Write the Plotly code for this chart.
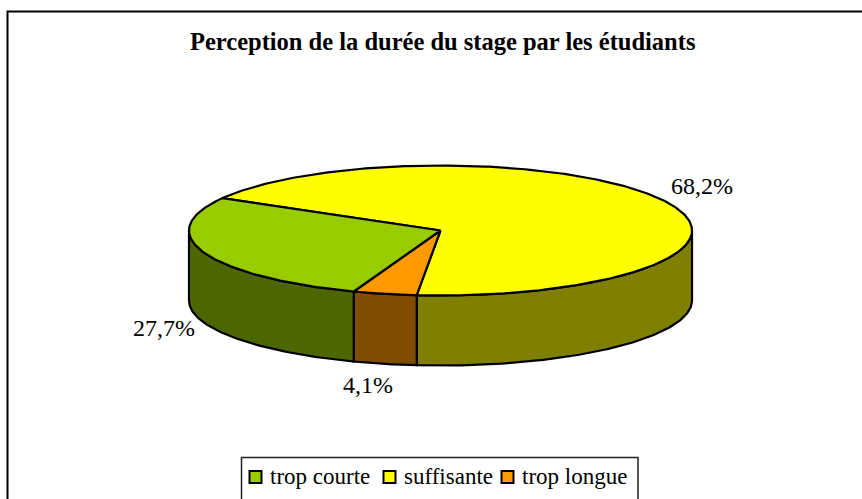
import numpy as np
import plotly.graph_objects as go

# Data
categories = ["trop courte", "suffisante", "trop longue"]
values = [27.7, 68.2, 4.1]
top_colors = ["#99CC00", "#FFFF00", "#FF9900"]
side_colors = ["#4D6600", "#808000", "#804D00"]
title_text = "Perception de la durée du stage par les étudiants"
FONT = "Liberation Serif, Times New Roman, serif"

# Pie projection, in page pixels
W, H = 862, 499
CX, CY, RX, RY, DEPTH = 440.5, 230.5, 251.5, 65.0, 70.0
START = 150.1  # parametric angle where "suffisante" starts, going clockwise


def rim(a0, a1, dy=0.0):
    n = max(2, int(abs(a1 - a0) * 1.2))
    t = np.radians(np.linspace(a0, a1, n))
    return CX + RX * np.cos(t), CY - RY * np.sin(t) + dy


# Slices clockwise: suffisante, trop longue, trop courte
spans = {}
a = START
for i in (1, 2, 0):
    spans[i] = (a, a - values[i] * 3.6)
    a = spans[i][1]

fig = go.Figure()
line = dict(color="black", width=2.2)

# Side walls: only the part of each rim facing the viewer (angles -180..0)
for i in (1, 2, 0):
    a0, a1 = spans[i]
    hi, lo = min(a0, 0.0), max(a1, -180.0)
    x0, y0 = rim(hi, lo)
    x1, y1 = rim(lo, hi, DEPTH)
    fig.add_trace(go.Scatter(
        x=np.r_[x0, x1, x0[0]], y=np.r_[y0, y1, y0[0]], mode="lines",
        fill="toself", fillcolor=side_colors[i], line=line,
        showlegend=False, hoverinfo="skip"))

# Top faces
for i in (1, 2, 0):
    a0, a1 = spans[i]
    xr, yr = rim(a0, a1)
    fig.add_trace(go.Scatter(
        x=np.r_[CX, xr, CX], y=np.r_[CY, yr, CY], mode="lines",
        fill="toself", fillcolor=top_colors[i], line=line,
        showlegend=False, hoverinfo="skip"))

# Legend: swatches and labels placed as in the reference
swatch_x = [255.5, 389.5, 507.5]
legend_y = 477
text_x = [268, 402, 520]
for name, col, sx in zip(categories, top_colors, swatch_x):
    fig.add_trace(go.Scatter(
        x=[sx], y=[legend_y], mode="markers", name=name, showlegend=False, hoverinfo="skip",
        marker=dict(symbol="square", size=12, color=col,
                    line=dict(color="black", width=2))))

annotations = [
    dict(x=tx, y=legend_y - 1, xref="x", yref="y", xanchor="left", text=name, showarrow=False,
         font=dict(family=FONT, size=23, color="black"))
    for name, tx in zip(categories, text_x)
]

# Percentage labels
label_pos = {1: (701.5, 186), 0: (164, 328), 2: (368, 385)}
annotations += [
    dict(x=label_pos[i][0], y=label_pos[i][1], xref="x", yref="y",
         text=f"{values[i]:.1f}%".replace(".", ","), showarrow=False,
         font=dict(family=FONT, size=24, color="black"))
    for i in range(3)
]
annotations.append(dict(
    x=442, y=41, xref="x", yref="y", text=f"<b>{title_text}</b>", showarrow=False,
    font=dict(family=FONT, size=24.5, color="black")))

fig.update_layout(
    width=W, height=H, margin=dict(l=0, r=0, t=0, b=0),
    paper_bgcolor="white", plot_bgcolor="white",
    xaxis=dict(range=[0, W], visible=False, fixedrange=True),
    yaxis=dict(range=[H, 0], visible=False, fixedrange=True),
    annotations=annotations,
    shapes=[
        dict(type="rect", xref="x", yref="y", x0=7.5, y0=11.5, x1=W + 20, y1=H + 20,
             line=dict(color="black", width=2), fillcolor="rgba(0,0,0,0)", layer="below"),
        dict(type="rect", xref="x", yref="y", x0=241.5, y0=457.5, x1=638, y1=H + 20,
             line=dict(color="#222222", width=1.5), fillcolor="white", layer="below"),
    ],
    showlegend=False,
)
fig.write_html("out.html", config=dict(displayModeBar=False),
               post_script="document.body.style.margin='0';document.body.style.overflow='hidden';")
